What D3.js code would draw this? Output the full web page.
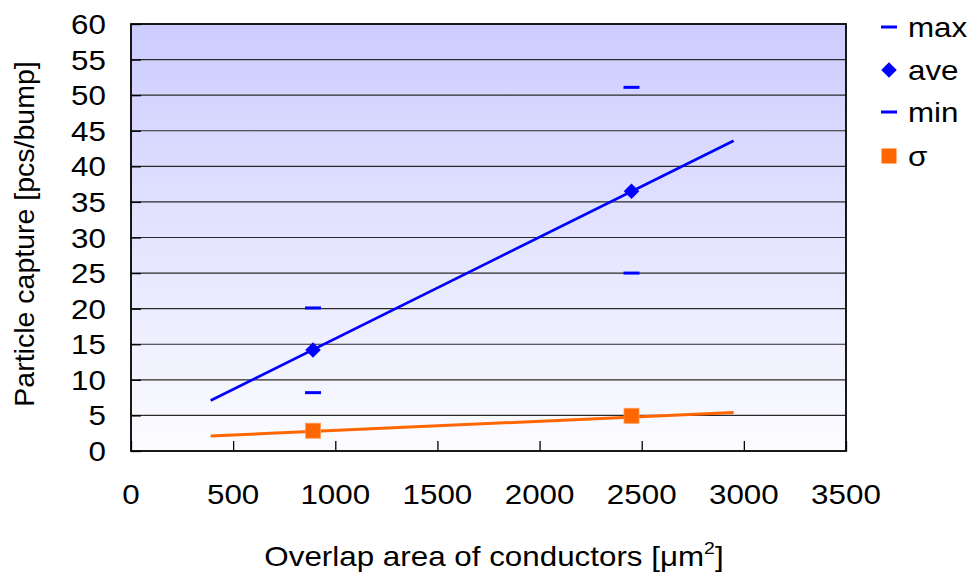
<!DOCTYPE html>
<html><head><meta charset="utf-8">
<script src="https://cdn.jsdelivr.net/npm/d3@7"></script>
<style>body{margin:0;background:#fff;} text{font-family:"Liberation Sans",Arial,sans-serif;fill:#000;}</style>
</head><body>
<svg id="c" width="975" height="574"></svg>
<script>
const areas = [891, 2450];
const maxVals = [20.1, 51.1];
const aveVals = [14.2, 36.5];
const minVals = [8.2, 25.0];
const sigmaVals = [2.85, 4.95];
const aveTrendX = [390, 2950];
const aveTrendY = [7.1, 43.6];
const sigmaTrendX = [390, 2950];
const sigmaTrendY = [2.1, 5.4];
const xTicks = [0, 500, 1000, 1500, 2000, 2500, 3000, 3500];
const yTicks = [0, 5, 10, 15, 20, 25, 30, 35, 40, 45, 50, 55, 60];
const legendLabels = ["max", "ave", "min", "σ"];

const svg = d3.select("#c");
const L = 131, R = 846, T = 24, B = 451;
const x = d3.scaleLinear().domain([0, 3500]).range([L, R]);
const y = d3.scaleLinear().domain([0, 60]).range([B, T]);
const FS = 28, SX = 1.12;
const blue = "#0000ff", orange = "#ff6600";

const defs = svg.append("defs");
const g = defs.append("linearGradient").attr("id", "bg").attr("x1", 0).attr("y1", 0).attr("x2", 0).attr("y2", 1);
g.append("stop").attr("offset", "0%").attr("stop-color", "#ccccff");
g.append("stop").attr("offset", "100%").attr("stop-color", "#fcfcff");

svg.append("rect").attr("x", L).attr("y", T).attr("width", R - L).attr("height", B - T).attr("fill", "url(#bg)");

// gridlines
svg.append("g").selectAll("line").data(yTicks.filter(d => d > 0 && d < 60)).join("line")
  .attr("x1", L).attr("x2", R).attr("y1", d => y(d)).attr("y2", d => y(d))
  .attr("stroke", "#2a2a2a").attr("stroke-width", 1.2);

// axes with inward ticks
const xAxis = svg.append("g").attr("transform", `translate(0,${B})`)
  .call(d3.axisTop(x).tickValues(xTicks).tickSize(10).tickFormat(""));
xAxis.select(".domain").remove();
xAxis.selectAll("line").attr("stroke", "#000").attr("stroke-width", 1.3);
const yAxis = svg.append("g").attr("transform", `translate(${L},0)`)
  .call(d3.axisRight(y).tickValues(yTicks).tickSize(10).tickFormat(""));
yAxis.select(".domain").remove();
yAxis.selectAll("line").attr("stroke", "#000").attr("stroke-width", 1.3);

svg.append("rect").attr("x", L).attr("y", T).attr("width", R - L).attr("height", B - T)
  .attr("fill", "none").attr("stroke", "#000").attr("stroke-width", 1.8);

// tick labels
function stretched(sel, ax, ay) {
  return sel.attr("transform", `translate(${ax},${ay}) scale(${SX},1)`);
}
svg.append("g").selectAll("text").data(xTicks).join("text")
  .each(function(d){ stretched(d3.select(this), x(d), 504); })
  .attr("text-anchor", "middle").attr("font-size", FS).text(d => d);
svg.append("g").selectAll("text").data(yTicks).join("text")
  .each(function(d){ stretched(d3.select(this), 106, y(d) + 10); })
  .attr("text-anchor", "end").attr("font-size", FS).text(d => d);

// axis titles
const xt = svg.append("text").attr("text-anchor", "middle").attr("font-size", FS)
  .attr("transform", `translate(494,566) scale(${SX},1)`);
xt.append("tspan").text("Overlap area of conductors [μm");
xt.append("tspan").attr("font-size", FS * 0.62).attr("dy", -12).text("2");
xt.append("tspan").attr("dy", 12).text("]");
svg.append("text").attr("text-anchor", "middle").attr("font-size", 28.5)
  .attr("transform", `translate(34,234) rotate(-90)`)
  .text("Particle capture [pcs/bump]");

// trend lines
const line = d3.line().x(d => x(d[0])).y(d => y(d[1]));
svg.append("path").datum(d3.zip(aveTrendX, aveTrendY)).attr("d", line)
  .attr("stroke", blue).attr("stroke-width", 2.6).attr("fill", "none");
svg.append("path").datum(d3.zip(sigmaTrendX, sigmaTrendY)).attr("d", line)
  .attr("stroke", orange).attr("stroke-width", 3).attr("fill", "none");

// max/min dashes
const dashes = areas.map((a, i) => [a, maxVals[i]]).concat(areas.map((a, i) => [a, minVals[i]]));
svg.append("g").selectAll("line").data(dashes).join("line")
  .attr("x1", d => x(d[0]) - 8).attr("x2", d => x(d[0]) + 8)
  .attr("y1", d => y(d[1])).attr("y2", d => y(d[1]))
  .attr("stroke", blue).attr("stroke-width", 3);

// ave diamonds
const diamond = d3.symbol().type(d3.symbolSquare).size(120);
svg.append("g").selectAll("path").data(areas.map((a, i) => [a, aveVals[i]])).join("path")
  .attr("d", diamond).attr("transform", d => `translate(${x(d[0])},${y(d[1])}) rotate(45)`)
  .attr("fill", blue);

// sigma squares
svg.append("g").selectAll("rect").data(areas.map((a, i) => [a, sigmaVals[i]])).join("rect")
  .attr("x", d => x(d[0]) - 7.5).attr("y", d => y(d[1]) - 7.5).attr("width", 15).attr("height", 15)
  .attr("fill", orange).attr("stroke", "#ff9955").attr("stroke-width", 0.8);

// legend
const legY = [27, 70, 112, 156];
const lg = svg.append("g");
legendLabels.forEach((lab, i) => {
  const cy = legY[i], cx = 889;
  if (lab === "max" || lab === "min") {
    lg.append("line").attr("x1", cx - 8).attr("x2", cx + 8).attr("y1", cy).attr("y2", cy)
      .attr("stroke", blue).attr("stroke-width", 3);
  } else if (lab === "ave") {
    lg.append("path").attr("d", diamond).attr("transform", `translate(${cx},${cy}) rotate(45)`).attr("fill", blue);
  } else {
    lg.append("rect").attr("x", cx - 7.5).attr("y", cy - 7.5).attr("width", 15).attr("height", 15).attr("fill", orange);
  }
  lg.append("text").attr("font-size", FS).attr("transform", `translate(908,${cy + 10}) scale(${SX},1)`).text(lab);
});
</script>
</body></html>
